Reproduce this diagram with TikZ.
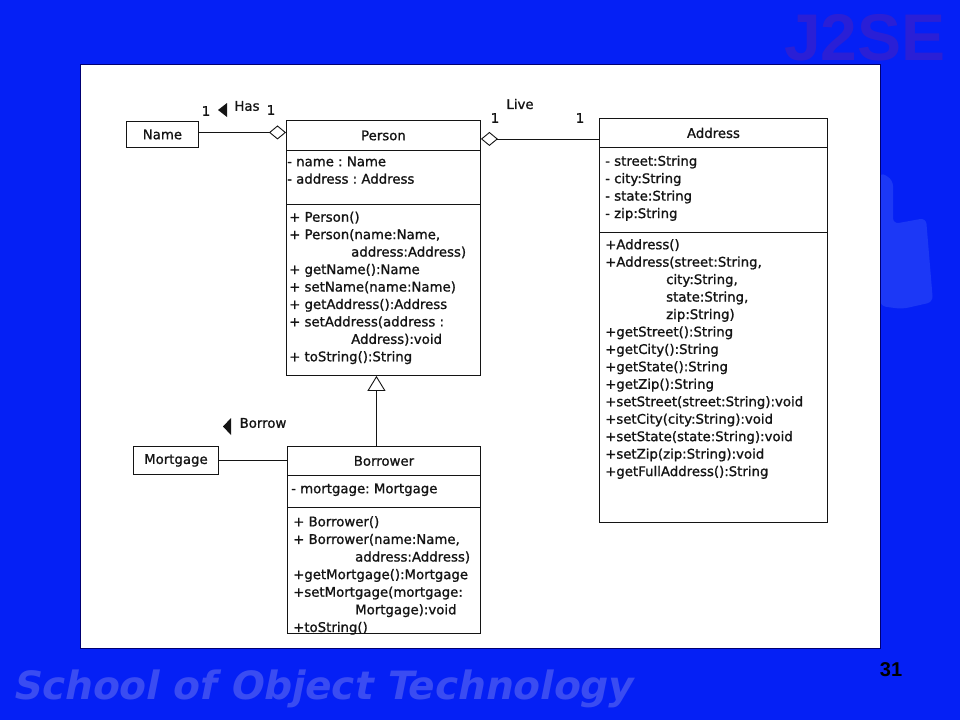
\documentclass[tikz,border=0pt]{standalone}
\usepackage{fontspec}
\setmainfont{DejaVu Sans}[BoldFont=DejaVu Sans, BoldFeatures={FakeBold=1.1}]
\newfontfamily\libsans{Liberation Sans}
\newfontfamily\schfont{DejaVu Sans Bold}[FakeSlant=0.2]
\usetikzlibrary{arrows.meta}
\definecolor{bgblue}{HTML}{0520F5}
\definecolor{jcol}{HTML}{2A1FD6}
\definecolor{schcol}{HTML}{3A4CF2}
\definecolor{blobcol}{HTML}{2F4DF7}
\definecolor{ink}{HTML}{141414}
\newcommand{\umlf}{\fontsize{13.3}{17.45}\selectfont\bfseries}
\newcommand{\umlfb}{\fontsize{13.3}{17.6}\selectfont\bfseries}
\newcommand{\indP}{\hspace*{62pt}}
\newcommand{\indA}{\hspace*{61pt}}
\frenchspacing
\begin{document}
\begin{tikzpicture}[x=1pt,y=-1pt,
  box/.style={draw=ink, line width=0.9pt, anchor=north west, inner sep=0pt, font=\umlf, text=ink},
  txt/.style={anchor=north west, inner sep=0pt, align=left, font=\umlf, text=ink},
  lbl/.style={inner sep=0pt, font=\umlf, text=ink},
  conn/.style={draw=ink, line width=0.9pt}]
% background
\useasboundingbox (0,0) rectangle (960,720);
\fill[bgblue] (0,0) rectangle (960,720);
\fill[blobcol, opacity=0.55, rounded corners=6pt] (880,172) -- (893,180) -- (893,224) -- (926,218) -- (933,302) -- (902,309) -- (880,306) -- cycle;
\node[anchor=base west, inner sep=0pt, text=jcol, font=\libsans\bfseries\fontsize{66}{70}\selectfont] (j2se) at (784,60) {J2SE};
\node[anchor=base west, inner sep=0pt, text=schcol, font=\schfont\fontsize{39}{42}\selectfont] (school) at (12,699) {School of Object Technology};
\node[inner sep=0pt, text=black, font=\libsans\bfseries\fontsize{20}{24}\selectfont] (pageno) at (891,670) {31};
\fill[white] (80,64) rectangle (880,648);
\draw[black!55!blue, line width=0.5pt] (80,64) rectangle (880,648);

% Name
\node[box, minimum width=72pt, minimum height=26pt] (NameBox) at (126,121) {Name};
% Person
\node[box, minimum width=194pt, minimum height=30pt] (PersonHead) at (286,120) {Person};
\node[box, minimum width=194pt, minimum height=54pt] (PersonAttr) at (286,150) {};
\node[box, minimum width=194pt, minimum height=171pt] (PersonMeth) at (286,204) {};
\node[txt] (PersonAttrT) at (287,153.8) {\strut- name : Name\\- address : Address};
\node[txt] (PersonMethT) at (289,209.3) {\strut+ Person()\\
+ Person(name:Name,\\
\indP address:Address)\\
+ getName():Name\\
+ setName(name:Name)\\
+ getAddress():Address\\
+ setAddress(address :\\
\indP Address):void\\
+ toString():String};
% Address
\node[box, minimum width=228pt, minimum height=29pt] (AddressHead) at (599,118) {Address};
\node[box, minimum width=228pt, minimum height=85pt] (AddressAttr) at (599,147) {};
\node[box, minimum width=228pt, minimum height=290pt] (AddressMeth) at (599,232) {};
\node[txt] (AddressAttrT) at (605,153.3) {\strut- street:String\\- city:String\\- state:String\\- zip:String};
\node[txt] (AddressMethT) at (605,236.8) {\strut+Address()\\
+Address(street:String,\\
\indA city:String,\\
\indA state:String,\\
\indA zip:String)\\
+getStreet():String\\
+getCity():String\\
+getState():String\\
+getZip():String\\
+setStreet(street:String):void\\
+setCity(city:String):void\\
+setState(state:String):void\\
+setZip(zip:String):void\\
+getFullAddress():String};
% Mortgage
\node[box, minimum width=85pt, minimum height=28pt] (MortgageBox) at (133,446) {Mortgage};
% Borrower
\node[box, minimum width=193pt, minimum height=29pt] (BorrowerHead) at (287,446) {Borrower};
\node[box, minimum width=193pt, minimum height=32pt] (BorrowerAttr) at (287,475) {};
\node[box, minimum width=193pt, minimum height=126pt] (BorrowerMeth) at (287,507) {};
\node[txt] (BorrowerAttrT) at (291,480.8) {\strut- mortgage: Mortgage};
\node[txt, font=\umlfb] (BorrowerMethT) at (293,513.8) {\strut+ Borrower()\\
+ Borrower(name:Name,\\
\indP address:Address)\\
+getMortgage():Mortgage\\
+setMortgage(mortgage:\\
\indP Mortgage):void\\
+toString()};

% connectors
\draw[conn, -{Diamond[fill=white, length=17pt, width=14pt]}] ([yshift=2pt]NameBox.east) -- ([yshift=2pt]NameBox.east -| PersonHead.west);
\draw[conn, {Diamond[fill=white, length=17pt, width=14pt]}-] ([yshift=-3.5pt]PersonHead.east) -- ([yshift=-3.5pt]PersonHead.east -| AddressHead.west);
\draw[conn, -{Triangle[fill=white, length=15pt, width=18pt]}] ([xshift=-7.5pt]BorrowerHead.north) -- ([xshift=-7.5pt]BorrowerHead.north |- PersonMeth.south);
\draw[conn] (MortgageBox.east) -- (MortgageBox.east -| BorrowerHead.west);

% labels
\node[lbl] (has1a) at (206,111) {1};
\fill[ink] (218,110) -- (227,103) -- (227,117) -- cycle;
\node[lbl] (hasT) at (247,106) {Has};
\node[lbl] (has1b) at (271,110) {1};
\node[lbl] (liveT) at (520,104) {Live};
\node[lbl] (live1a) at (495,118) {1};
\node[lbl] (live1b) at (580,118) {1};
\fill[ink] (223,426.5) -- (231,418) -- (231,435) -- cycle;
\node[lbl] (borrowT) at (263,423) {Borrow};
\end{tikzpicture}
\end{document}
